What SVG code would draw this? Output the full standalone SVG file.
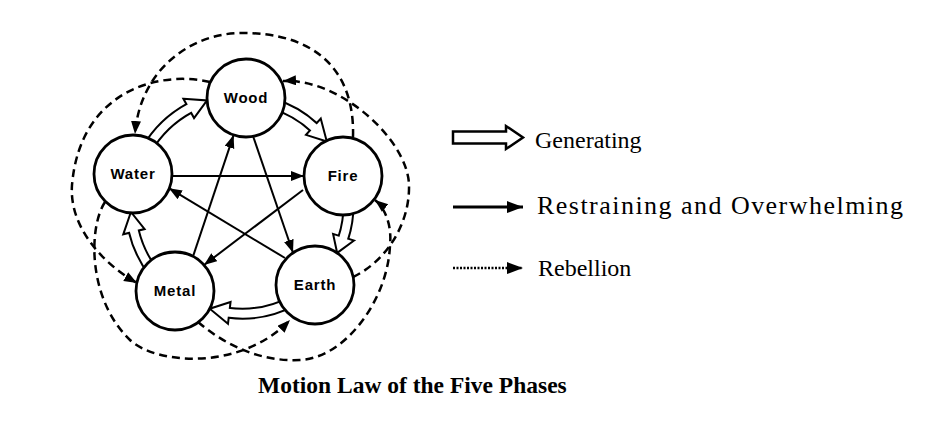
<svg xmlns="http://www.w3.org/2000/svg" width="945" height="428" viewBox="0 0 945 428">
<defs>
<style>
.nd{fill:#fff;stroke:#000;stroke-width:2.8}
.lbl{font-family:"Liberation Sans",Arial,sans-serif;font-size:15px;font-weight:bold;letter-spacing:0.8px;text-anchor:middle;fill:#000}
.res{stroke:#000;stroke-width:2;fill:none;marker-end:url(#ah)}
.reb{stroke:#000;stroke-width:2.5;fill:none;stroke-dasharray:8 5;marker-end:url(#ah)}
.gs{fill:none;stroke:#000;stroke-width:12}
.gw{fill:none;stroke:#fff;stroke-width:8}
.gh{fill:#fff;stroke:#000;stroke-width:2;stroke-linejoin:miter}
.leg{font-family:"Liberation Serif","Times New Roman",serif;font-size:24px;fill:#000}
.ttl{font-family:"Liberation Serif","Times New Roman",serif;font-size:23.5px;font-weight:bold;fill:#000}
</style>
<marker id="ah" markerUnits="userSpaceOnUse" markerWidth="14" markerHeight="11" refX="13" refY="5" orient="auto"><path d="M0,0 L13,5 L0,10 z" fill="#000"/></marker>
<marker id="ahL" markerUnits="userSpaceOnUse" markerWidth="17" markerHeight="13" refX="16" refY="6" orient="auto"><path d="M0,0 L16,6 L0,12 z" fill="#000"/></marker>
</defs>
<rect width="945" height="428" fill="#fff"/>

<g id="connectors">
  <!-- restraining -->
  <line class="res" x1="172" y1="176" x2="304" y2="176"/>
  <line class="res" x1="253" y1="136" x2="293" y2="252.8"/>
  <line class="res" x1="193" y1="256.5" x2="233.6" y2="135.1"/>
  <line class="res" x1="303" y1="190" x2="204" y2="265"/>
  <line class="res" x1="285" y1="258" x2="169" y2="188.2"/>
  <!-- rebellion -->
  <path class="reb" d="M353,137 C355,70 315,32 240,33 C190,34 140,70 135,134"/>
  <path class="reb" d="M210,82 C160,70 80,90 72,185 C69,225 100,262 137,283"/>
  <path class="reb" d="M105,202 C88,228 88,300 130,340 C155,364 240,372 290,320"/>
  <path class="reb" d="M198,322 C225,345 260,362 300,360 C345,358 388,300 390,245 C392,225 385,208 375,200"/>
  <path class="reb" d="M353,277 C385,262 410,225 409,185 C408,140 340,78 283,81"/>
  <!-- generating -->
  <g transform="translate(242 205) rotate(216.34)">
    <path class="gs" d="M109.7,-11.53 A110.3,110.3 0 0 1 100.14,46.24"/>
    <polygon class="gh" points="110.12,50.85 90.15,63.56 90.15,41.63"/>
    <path class="gw" d="M109.7,-11.53 A110.3,110.3 0 0 1 99.28,48.06"/>
  </g>
  <g transform="translate(242 205) rotate(-66.77)">
    <path class="gs" d="M105.32,-11.07 A105.9,105.9 0 0 1 100.04,34.74"/>
    <polygon class="gh" points="110.43,38.35 91.74,52.9 89.65,31.13"/>
    <path class="gw" d="M105.32,-11.07 A105.9,105.9 0 0 1 99.37,36.62"/>
  </g>
  <g transform="translate(242 205) rotate(5.75)">
    <path class="gs" d="M105.97,-11.14 A106.55,106.55 0 0 1 104.29,21.84"/>
    <polygon class="gh" points="115.05,24.1 99.49,38.13 93.52,19.59"/>
    <path class="gw" d="M105.97,-11.14 A106.55,106.55 0 0 1 103.86,23.79"/>
  </g>
  <g transform="translate(242 205) rotate(68.33)">
    <path class="gs" d="M108.05,-11.36 A108.65,108.65 0 0 1 95.57,51.68"/>
    <polygon class="gh" points="105.25,56.91 84.5,68.3 85.9,46.44"/>
    <path class="gw" d="M108.05,-11.36 A108.65,108.65 0 0 1 94.61,53.42"/>
  </g>
  <g transform="translate(242 205) rotate(148.27)">
    <path class="gs" d="M110.69,-11.63 A111.3,111.3 0 0 1 105.94,34.13"/>
    <polygon class="gh" points="116.41,37.51 98.12,52.53 95.47,30.76"/>
    <path class="gw" d="M110.69,-11.63 A111.3,111.3 0 0 1 105.31,36.03"/>
  </g>
</g>

<g id="wood"><circle class="nd" cx="246" cy="98" r="39"/><text class="lbl" x="246" y="103">Wood</text></g>
<g id="fire"><circle class="nd" cx="343" cy="176" r="39"/><text class="lbl" x="343" y="181">Fire</text></g>
<g id="earth"><circle class="nd" cx="315" cy="285" r="39"/><text class="lbl" x="315" y="290">Earth</text></g>
<g id="metal"><circle class="nd" cx="175" cy="291" r="39"/><text class="lbl" x="175" y="296">Metal</text></g>
<g id="water"><circle class="nd" cx="133" cy="174" r="39"/><text class="lbl" x="133" y="179">Water</text></g>

<g id="legend-generating">
  <polygon points="453,131.5 506,131.5 506,126 523,137.5 506,149 506,143.5 453,143.5" fill="#fff" stroke="#000" stroke-width="2.5" stroke-linejoin="miter"/>
  <text class="leg" x="535" y="148">Generating</text>
</g>
<g id="legend-restraining">
  <line x1="453" y1="207" x2="523" y2="207" stroke="#000" stroke-width="3" marker-end="url(#ahL)"/>
  <text class="leg" x="537" y="214" style="font-size:26px" textLength="366" lengthAdjust="spacing">Restraining and Overwhelming</text>
</g>
<g id="legend-rebellion">
  <line x1="453" y1="268" x2="523" y2="268" stroke="#000" stroke-width="2.5" stroke-dasharray="2 1.5" marker-end="url(#ahL)"/>
  <text class="leg" x="538" y="276">Rebellion</text>
</g>
<text class="ttl" x="258" y="393">Motion Law of the Five Phases</text>
</svg>
